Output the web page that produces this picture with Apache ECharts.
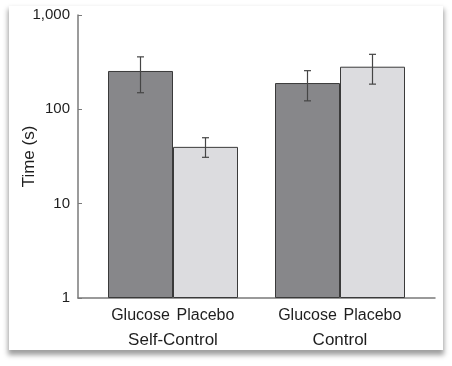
<!DOCTYPE html>
<html>
<head>
<meta charset="utf-8">
<script src="https://cdn.jsdelivr.net/npm/echarts@6/dist/echarts.min.js"></script>
<style>
  html, body { margin: 0; padding: 0; background: #ffffff; }
  #card { position: absolute; left: 9px; top: 6px; width: 434px; height: 344px; background: #ffffff;
          box-shadow: 0 4px 5px 1px rgba(0,0,0,0.38); }
  #chart { position: absolute; left: 0; top: 0; width: 452px; height: 366px; }
</style>
</head>
<body>
<div id="card"></div>
<div id="chart"></div>
<script>
// ---- data ----
const groups = ['Self-Control', 'Control'];
const seriesNames = ['Glucose', 'Placebo'];
const glucoseMean = [255, 190];
const glucoseLow = [150, 123];
const glucoseHigh = [360, 257];
const placeboMean = [40, 283];
const placeboLow = [31, 185];
const placeboHigh = [50, 383];
const yTickValues = [1, 10, 100, 1000];

// ---- styles ----
const BAR_W = 65;
const CAP = 3.5;
const textColor = '#1e1e1e';
const axisColor = '#7a7a7a';
const fontFamily = '"Liberation Sans", Arial, sans-serif';

function errorSeries(name, lows, highs, sign) {
  return {
    type: 'custom',
    name: name + ' error',
    xAxisIndex: 1,
    yAxisIndex: 1,
    z: 5,
    silent: true,
    data: groups.map((g, i) => [i, lows[i], highs[i]]),
    renderItem: function (params, api) {
      const lo = api.coord([api.value(0), api.value(1)]);
      const hi = api.coord([api.value(0), api.value(2)]);
      const x = lo[0] + sign * BAR_W / 2;
      const st = { stroke: '#454545', lineWidth: 1.2 };
      return {
        type: 'group',
        children: [
          { type: 'line', shape: { x1: x, y1: lo[1], x2: x, y2: hi[1] }, style: st },
          { type: 'line', shape: { x1: x - CAP, y1: lo[1], x2: x + CAP, y2: lo[1] }, style: st },
          { type: 'line', shape: { x1: x - CAP, y1: hi[1], x2: x + CAP, y2: hi[1] }, style: st }
        ]
      };
    }
  };
}

const chart = echarts.init(document.getElementById('chart'), null, { renderer: 'canvas' });
chart.setOption({
  backgroundColor: 'transparent',
  animation: false,
  textStyle: { fontFamily: fontFamily },
  grid: [
    { left: 78, top: 15, width: 357, height: 283 },
    { left: 89.5, top: 15, width: 334, height: 283 }
  ],
  xAxis: [
    { gridIndex: 0, type: 'value', min: 0, max: 1,
      axisLine: { show: true, lineStyle: { color: axisColor, width: 1.5 } },
      axisTick: { show: false }, axisLabel: { show: false }, splitLine: { show: false } },
    { gridIndex: 1, type: 'category', data: groups,
      axisLine: { show: false }, axisTick: { show: false }, splitLine: { show: false },
      axisLabel: { show: true, margin: 34, fontSize: 17, color: textColor, fontFamily: fontFamily } }
  ],
  yAxis: [
    { gridIndex: 0, type: 'log', logBase: 10, min: 1, max: 1000,
      name: 'Time (s)', nameLocation: 'middle', nameGap: 40, nameMoveOverlap: false,
      nameTextStyle: { fontSize: 17, color: textColor, fontFamily: fontFamily },
      axisLine: { show: true, lineStyle: { color: axisColor, width: 1.5 } },
      axisTick: { show: true, inside: true, length: 4, lineStyle: { color: axisColor } },
      minorTick: { show: false },
      splitLine: { show: false },
      axisLabel: { fontSize: 15, color: textColor, margin: 8, fontFamily: fontFamily,
        formatter: function (v) { return yTickValues.indexOf(v) >= 0 ? Number(v).toLocaleString('en-US') : ''; } } },
    { gridIndex: 1, type: 'log', logBase: 10, min: 1, max: 1000, show: false }
  ],
  series: [
    { type: 'bar', name: seriesNames[0], xAxisIndex: 1, yAxisIndex: 1, data: glucoseMean,
      barWidth: BAR_W, barGap: '0%',
      itemStyle: { color: '#87878a', borderColor: '#3a3a3a', borderWidth: 1 },
      label: { show: true, position: 'bottom', distance: 10, formatter: seriesNames[0],
        fontSize: 16, color: textColor, fontFamily: fontFamily } },
    { type: 'bar', name: seriesNames[1], xAxisIndex: 1, yAxisIndex: 1, data: placeboMean,
      barWidth: BAR_W, barGap: '0%',
      itemStyle: { color: '#dcdcdf', borderColor: '#3a3a3a', borderWidth: 1 },
      label: { show: true, position: 'bottom', distance: 10, formatter: seriesNames[1],
        fontSize: 16, color: textColor, fontFamily: fontFamily } },
    errorSeries(seriesNames[0], glucoseLow, glucoseHigh, -1),
    errorSeries(seriesNames[1], placeboLow, placeboHigh, 1)
  ]
});
</script>
</body>
</html>
